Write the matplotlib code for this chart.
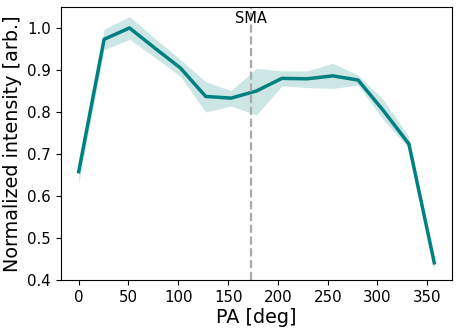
import numpy as np
import matplotlib.pyplot as plt

# position angle samples and normalised intensity
pa = [0, 25.5, 51, 76.5, 102, 127.5, 153, 178.5, 204, 229.5, 255, 280.5, 306, 331.5, 357]
intensity = [0.658, 0.973, 1.000, 0.952, 0.905, 0.837, 0.833, 0.850, 0.880, 0.879, 0.886, 0.876, 0.803, 0.724, 0.441]
upper = [0.668, 0.997, 1.027, 0.975, 0.925, 0.872, 0.851, 0.904, 0.898, 0.898, 0.916, 0.888, 0.829, 0.741, 0.452]
lower = [0.628, 0.948, 0.973, 0.930, 0.885, 0.800, 0.814, 0.793, 0.862, 0.858, 0.856, 0.864, 0.781, 0.714, 0.422]

sma_pa = 173

fig = plt.figure(figsize=(4.58, 3.31), dpi=100)
ax = fig.add_axes([0.133, 0.154, 0.854, 0.825])

ax.fill_between(pa, lower, upper, color='teal', alpha=0.2, linewidth=0)
ax.plot(pa, intensity, color='teal', lw=2.5)
ax.axvline(sma_pa, color='#aaaaaa', ls='--', lw=1.6)
ax.text(sma_pa, 1.022, 'SMA', ha='center', va='center', fontsize=10.5)

ax.set_ylim(0.4, 1.05)
ax.set_xticks([0, 50, 100, 150, 200, 250, 300, 350])
ax.tick_params(labelsize=10.8)
ax.set_xlabel('PA [deg]', fontsize=13.8, labelpad=2)
ax.set_ylabel('Normalized intensity [arb.]', fontsize=13.8, labelpad=4)

plt.savefig('out.png', dpi=100)
